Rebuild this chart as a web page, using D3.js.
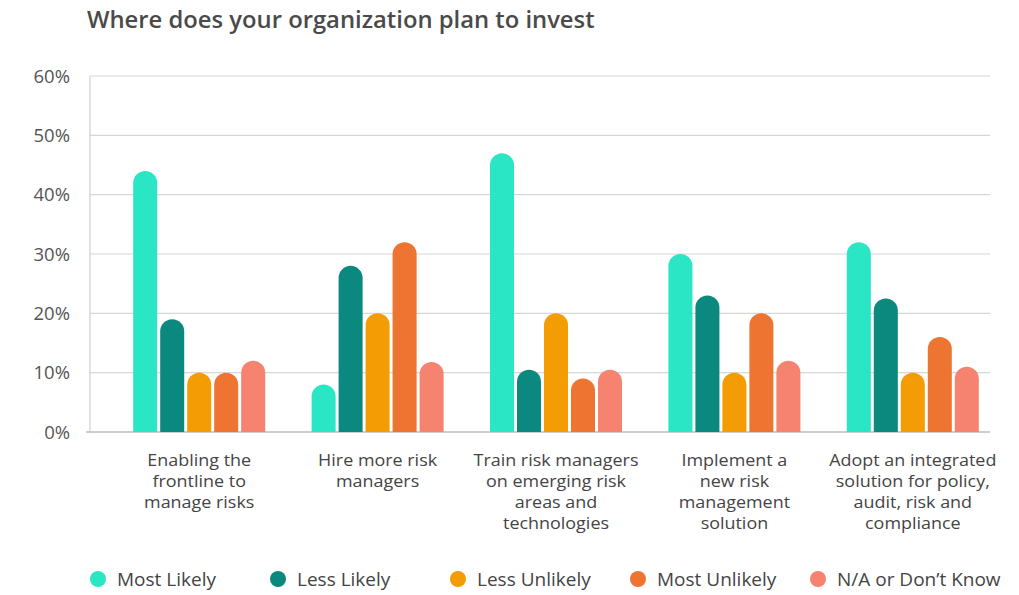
<!DOCTYPE html>
<html><head><meta charset="utf-8">
<script src="https://cdn.jsdelivr.net/npm/d3@7"></script>
<style>
body{margin:0;background:#fff;}
svg{font-family:"Open Sans","Noto Sans",sans-serif;}
</style></head>
<body><svg id="c" width="1019" height="595"></svg>
<script>
const categories = [
  ["Enabling the","frontline to","manage risks"],
  ["Hire more risk","managers"],
  ["Train risk managers","on emerging risk","areas and","technologies"],
  ["Implement a","new risk","management","solution"],
  ["Adopt an integrated","solution for policy,","audit, risk and","compliance"]
];
const seriesNames = ["Most Likely","Less Likely","Less Unlikely","Most Unlikely","N/A or Don\u2019t Know"];
const seriesColors = ["#2ae6c4","#0b897f","#f39c03","#ee7431","#f5836f"];
const mostLikely   = [44, 8, 47, 30, 32];
const lessLikely   = [19, 28, 10.5, 23, 22.5];
const lessUnlikely = [10, 20, 20, 10, 10];
const mostUnlikely = [10, 32, 9, 20, 16];
const naDontKnow   = [12, 11.8, 10.5, 12, 11];
const yTicks = [0,10,20,30,40,50,60];

const values = [mostLikely, lessLikely, lessUnlikely, mostUnlikely, naDontKnow];
const svg = d3.select("#c");
const y = d3.scaleLinear().domain([0,60]).range([432,76]);
const x0 = d3.scaleBand().domain(d3.range(categories.length)).range([110,1002]).padding(0);
const groupW = 132;
const x1 = d3.scaleBand().domain(d3.range(seriesNames.length)).range([0,groupW]).paddingInner(0.11).paddingOuter(0);

// title
svg.append("text").attr("x",87).attr("y",28).attr("font-size",23.8).attr("font-weight",600)
  .attr("fill","#4a4a4a").text("Where does your organization plan to invest");

// gridlines
svg.append("g").selectAll("line").data(yTicks.filter(d=>d>0)).join("line")
  .attr("x1",90).attr("x2",990).attr("y1",d=>y(d)).attr("y2",d=>y(d))
  .attr("stroke","#d6d6d6").attr("stroke-width",1.2);
// y-axis line
svg.append("line").attr("x1",90).attr("x2",90).attr("y1",y(60)).attr("y2",y(0)+1).attr("stroke","#cfcfcf").attr("stroke-width",1.2);
// baseline
svg.append("line").attr("x1",86).attr("x2",990).attr("y1",y(0)).attr("y2",y(0)).attr("stroke","#bdbdbd").attr("stroke-width",1.5);

// y tick labels
svg.append("g").selectAll("text").data(yTicks).join("text")
  .attr("x",70).attr("y",d=>y(d)+6.5).attr("text-anchor","end").attr("font-size",18.5)
  .attr("fill","#555").text(d=>d+"%");

// bars
function barPath(x, w, v){
  const r = w/2, yb = y(0), yt = y(v);
  return `M${x},${yb} L${x},${yt+r} A${r},${r} 0 0 1 ${x+w},${yt+r} L${x+w},${yb} Z`;
}
const g = svg.append("g");
const lab = svg.append("g");
categories.forEach((c,i)=>{
  const gx = x0(i) + (x0.bandwidth()-groupW)/2;
  values.forEach((s,j)=>{
    g.append("path").attr("d", barPath(gx + x1(j), x1.bandwidth(), s[i])).attr("fill", seriesColors[j]);
  });
  const cx = x0(i)+x0.bandwidth()/2;
  c.forEach((line,k)=>{
    lab.append("text").attr("text-anchor","middle").attr("font-size",16.3).attr("fill","#444")
      .attr("transform",`translate(${cx},${465.5 + k*21.3}) scale(1.1,1)`).text(line);
  });
});

// legend
const lg = svg.append("g");
seriesNames.forEach((n,j)=>{
  const cx = 98 + j*180;
  lg.append("circle").attr("cx",cx).attr("cy",579).attr("r",8).attr("fill",seriesColors[j]);
  lg.append("text").attr("x",cx+19).attr("y",585.5).attr("font-size",19).attr("fill","#444").text(n);
});
</script></body></html>
